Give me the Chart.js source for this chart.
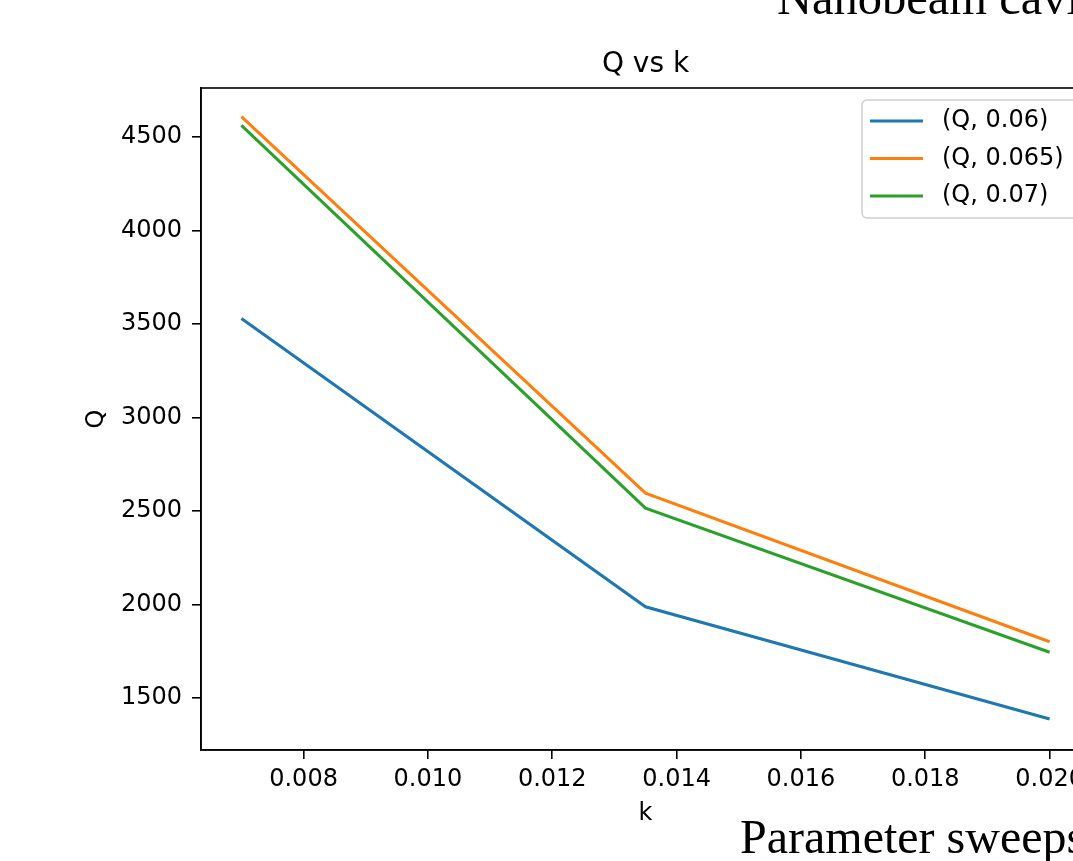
<!DOCTYPE html>
<html>
<head>
<meta charset="utf-8">
<script src="https://cdn.jsdelivr.net/npm/chart.js@4.4.1/dist/chart.umd.min.js"></script>
<style>
  html, body { margin: 0; padding: 0; background: #fff; overflow: hidden; }
  #wrap { position: relative; width: 1073px; height: 861px; overflow: hidden; }
  #myChart { position: absolute; left: 0; top: 0; }
  .slide { position: absolute; font-family: "Liberation Serif", "Times New Roman", serif; color: #000; white-space: nowrap; }
</style>
</head>
<body>
<div id="wrap">
  <canvas id="myChart" width="1140" height="861"></canvas>
  <div class="slide" style="left:777px; top:-25.6px; font-size:48.5px; line-height:48.5px;">Nanobeam cavity</div>
  <div class="slide" style="left:740px; top:813px; font-size:48px; line-height:48px;">Parameter sweeps</div>
</div>
<script>
// values
var kValues = [0.007, 0.0135, 0.020];
var q006 = [3530, 1988, 1388];
var q0065 = [4610, 2596, 1801];
var q007 = [4563, 2516, 1745];
var seriesLabels = ["(Q, 0.06)", "(Q, 0.065)", "(Q, 0.07)"];
var xTicks = [0.008, 0.010, 0.012, 0.014, 0.016, 0.018, 0.020];
var yTicks = [1500, 2000, 2500, 3000, 3500, 4000, 4500];

var font = "DejaVu Sans";

function points(ys) {
    return kValues.map(function (k, i) { return { x: k, y: ys[i] }; });
}

// title drawn centred over the plot area, like matplotlib
var titlePlugin = {
    id: 'axTitle',
    afterDraw: function (chart) {
        var ctx = chart.ctx, a = chart.chartArea;
        ctx.save();
        ctx.font = "28px '" + font + "'";
        ctx.fillStyle = '#000';
        ctx.textAlign = 'center';
        ctx.textBaseline = 'alphabetic';
        ctx.fillText('Q vs k', (a.left + a.right) / 2, 72);
        ctx.restore();
    }
};

// full box around the axes
var framePlugin = {
    id: 'frame',
    afterDatasetsDraw: function (chart) {
        var ctx = chart.ctx, a = chart.chartArea;
        ctx.save();
        ctx.strokeStyle = '#000';
        ctx.lineWidth = 1.6;
        ctx.strokeRect(a.left, a.top, a.right - a.left, a.bottom - a.top);
        ctx.restore();
    }
};

// legend in the upper right corner inside the axes
var legendPlugin = {
    id: 'innerLegend',
    afterDraw: function (chart) {
        var ctx = chart.ctx, a = chart.chartArea;
        var w = 216, h = 118;
        var x = a.right - 12 - w, y = a.top + 12;
        ctx.save();
        ctx.beginPath();
        ctx.roundRect(x, y, w, h, 5);
        ctx.fillStyle = 'rgba(255,255,255,0.8)';
        ctx.fill();
        ctx.strokeStyle = '#cfcfcf';
        ctx.lineWidth = 1.5;
        ctx.stroke();
        ctx.font = "24px '" + font + "'";
        ctx.textBaseline = 'middle';
        ctx.textAlign = 'left';
        chart.data.datasets.forEach(function (ds, i) {
            var yy = y + 21 + i * 37.5;
            ctx.beginPath();
            ctx.moveTo(x + 8, yy);
            ctx.lineTo(x + 61, yy);
            ctx.strokeStyle = ds.borderColor;
            ctx.lineWidth = 3;
            ctx.stroke();
            ctx.fillStyle = '#000';
            ctx.fillText(ds.label, x + 80, yy);
        });
        ctx.restore();
    }
};

function renderChart() {
    var ctx = document.getElementById("myChart").getContext('2d');
    var myChart = new Chart(ctx, {
        type: 'line',
        data: {
            datasets: [{
                label: seriesLabels[0],
                data: points(q006),
                borderColor: '#1f77b4',
            }, {
                label: seriesLabels[1],
                data: points(q0065),
                borderColor: '#ff7f0e',
            }, {
                label: seriesLabels[2],
                data: points(q007),
                borderColor: '#2ca02c',
            }]
        },
        options: {
            responsive: false,
            animation: false,
            layout: { padding: { top: 88, right: 50, left: 0, bottom: 0 } },
            elements: {
                line: { borderWidth: 3, tension: 0, fill: false },
                point: { radius: 0, hoverRadius: 0 }
            },
            plugins: {
                legend: { display: false },
                title: { display: false },
                tooltip: { enabled: false }
            },
            scales: {
                x: {
                    type: 'linear',
                    min: 0.00635,
                    max: 0.02065,
                    afterBuildTicks: function (s) { s.ticks = xTicks.map(function (v) { return { value: v }; }); },
                    afterFit: function (s) { s.height = 111; },
                    border: { display: true, color: '#000', width: 1.6 },
                    grid: { display: true, drawOnChartArea: false, drawTicks: true, tickLength: 9, color: '#000', lineWidth: 1.6 },
                    ticks: {
                        color: '#000',
                        font: { family: font, size: 24 },
                        padding: 6,
                        maxRotation: 0,
                        autoSkip: false,
                        callback: function (v) { return v.toFixed(3); }
                    },
                    title: { display: true, text: 'k', color: '#000', font: { family: font, size: 24 }, padding: { top: 33, bottom: 33 } }
                },
                y: {
                    min: 1222,
                    max: 4763,
                    afterBuildTicks: function (s) { s.ticks = yTicks.map(function (v) { return { value: v }; }); },
                    afterFit: function (s) { s.width = 201; },
                    border: { display: true, color: '#000', width: 1.6 },
                    grid: { display: true, drawOnChartArea: false, drawTicks: true, tickLength: 9, color: '#000', lineWidth: 1.6 },
                    ticks: {
                        color: '#000',
                        font: { family: font, size: 24 },
                        padding: 10,
                        autoSkip: false,
                        callback: function (v) { return String(v); }
                    },
                    title: { display: true, text: 'Q', color: '#000', font: { family: font, size: 24 }, padding: { top: 82, bottom: 82 } }
                }
            }
        },
        plugins: [titlePlugin, framePlugin, legendPlugin]
    });
}

renderChart();
</script>
</body>
</html>
